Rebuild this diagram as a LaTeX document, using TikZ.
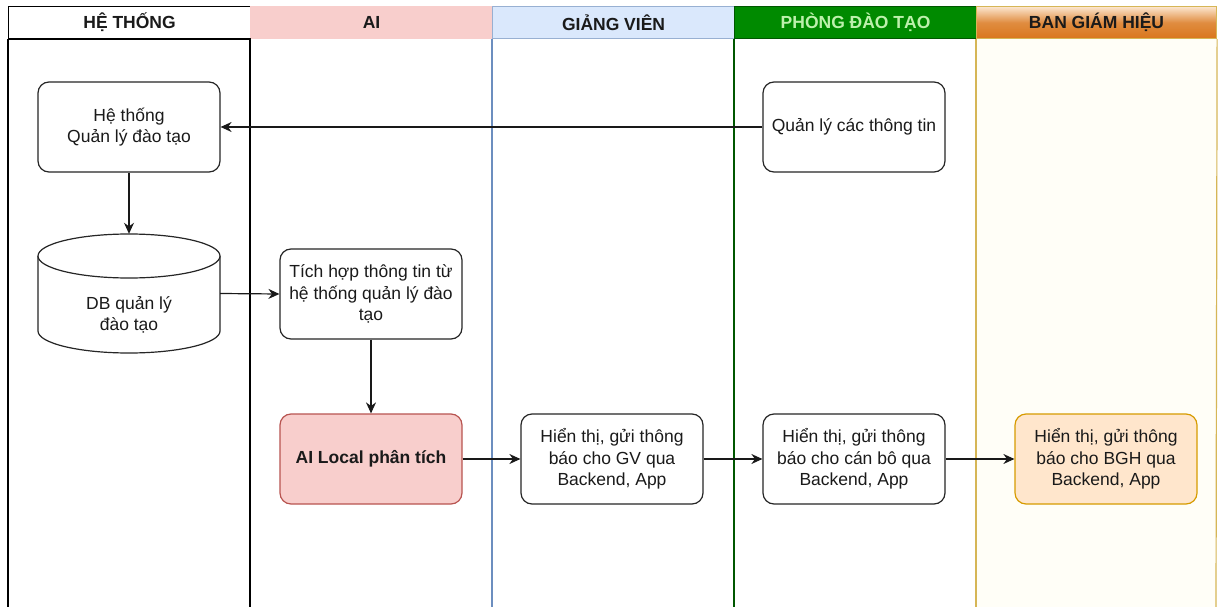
\documentclass[tikz,border=0pt]{standalone}
\usepackage{fontspec}
\setmainfont{Liberation Sans}
\usetikzlibrary{arrows.meta}
\definecolor{txt}{HTML}{1A1A1A}
\definecolor{aifill}{HTML}{F8CECC}
\definecolor{aidraw}{HTML}{B85450}
\definecolor{gvfill}{HTML}{DAE8FC}
\definecolor{gvdraw}{HTML}{6C8EBF}
\definecolor{pdtfill}{HTML}{008A00}
\definecolor{pdtdraw}{HTML}{005700}
\definecolor{pdttext}{HTML}{BDF0AC}
\definecolor{bghtop}{HTML}{FCE6CF}
\definecolor{bghbot}{HTML}{D9761C}
\definecolor{bghdraw}{HTML}{D6B656}
\definecolor{bghfill}{HTML}{FFE6CC}
\definecolor{bghnode}{HTML}{D79B00}
\definecolor{lanefive}{HTML}{FFFEF7}
\tikzset{
  nodefont/.style={font=\fontsize{17.5}{21.5}\selectfont},
  box/.style={draw=black!85, line width=1.2pt, rounded corners=11pt, minimum width=182pt, minimum height=90pt, align=center, text=txt, nodefont, inner sep=2pt},
  hdr/.style={line width=1.1pt, minimum height=32pt, minimum width=242pt, anchor=north west, font=\bfseries\fontsize{17.5}{20}\selectfont, inner sep=0pt},
  arr/.style={-{Stealth[length=11pt,width=10pt]}, line width=1.2pt, black!90},
  lane/.style={line width=1.2pt}
}
\begin{document}
\begin{tikzpicture}[x=1pt,y=-1pt]
\useasboundingbox (0,0) rectangle (1218,607);
\fill[white] (0,0) rectangle (1218,607);
% lane bodies
\fill[lanefive] (976,38) rectangle (1216,607);
% headers
\node[hdr, draw=black, fill=white, text=txt] (h1) at (8,6) {HỆ THỐNG};
\node[hdr, draw=aifill, fill=aifill, text=txt] (h2) at (250,6) {AI};
\node[hdr, draw=gvdraw!70, fill=gvfill, text=txt] (h3) at (492,6) {GIẢNG VIÊN};
\node[hdr, draw=pdtdraw, fill=pdtfill, text=pdttext] (h4) at (734,6) {PHÒNG ĐÀO TẠO};
\node[hdr, minimum width=240pt, draw=bghdraw, top color=bghtop, bottom color=bghbot, middle color=bghbot!80!bghtop, text=txt] (h5) at (976,6) {BAN GIÁM HIỆU};
% lane lines
\coordinate (l0) at (8,607); \coordinate (l1) at (250,607); \coordinate (l2) at (492,607);
\coordinate (l3) at (734,607); \coordinate (l4) at (976,607); \coordinate (l5) at (1216,607);
\draw[lane, black] (h1.south west) -- (l0);
\draw[lane, black] (h2.south west) -- (l1);
\draw[lane, gvdraw] (h3.south west) -- (l2);
\draw[lane, pdtdraw] (h4.south west) -- (l3);
\draw[lane, bghdraw] (h5.south west) -- (l4);
\draw[lane, bghdraw] (h5.south east) -- (l5);
\draw[lane, black] (h1.south west) -- (h1.south east);
% nodes
\node[box] (ht) at (129,127) {Hệ thống\\Quản lý đào tạo};
\node[box] (ql) at (854,127) {Quản lý các thông tin};
% cylinder
\node[minimum width=182pt, minimum height=119pt, inner sep=0pt] (db) at (129,293.5) {};
\draw[line width=1.2pt, black!85, fill=white] (38,256) -- (38,331) arc[start angle=180, end angle=360, x radius=91pt, y radius=22pt] -- (220,256);
\draw[line width=1.2pt, black!85, fill=white] (129,256) ellipse[x radius=91pt, y radius=22pt];
\node[align=center, text=txt, nodefont] (dbtext) at (129,315) {DB quản lý\\đào tạo};
\node[box] (th) at (371,294) {Tích hợp thông tin từ\\hệ thống quản lý đào\\tạo};
\node[box, draw=aidraw, fill=aifill, font=\bfseries\fontsize{17.5}{21.5}\selectfont] (ai) at (371,459) {AI Local phân tích};
\node[box] (gv) at (612,459) {Hiển thị, gửi thông\\báo cho GV qua\\Backend, App};
\node[box] (cb) at (854,459) {Hiển thị, gửi thông\\báo cho cán bô qua\\Backend, App};
\node[box, draw=bghnode, fill=bghfill] (bgh) at (1106,459) {Hiển thị, gửi thông\\báo cho BGH qua\\Backend, App};
% connectors
\draw[arr] (ql.west) -- (ht.east);
\draw[arr] (ht.south) -- (db.north);
\draw[arr] (db.east) -- (th.west);
\draw[arr] (th.south) -- (ai.north);
\draw[arr] (ai.east) -- (gv.west);
\draw[arr] (gv.east) -- (cb.west);
\draw[arr] (cb.east) -- (bgh.west);
\end{tikzpicture}
\end{document}
